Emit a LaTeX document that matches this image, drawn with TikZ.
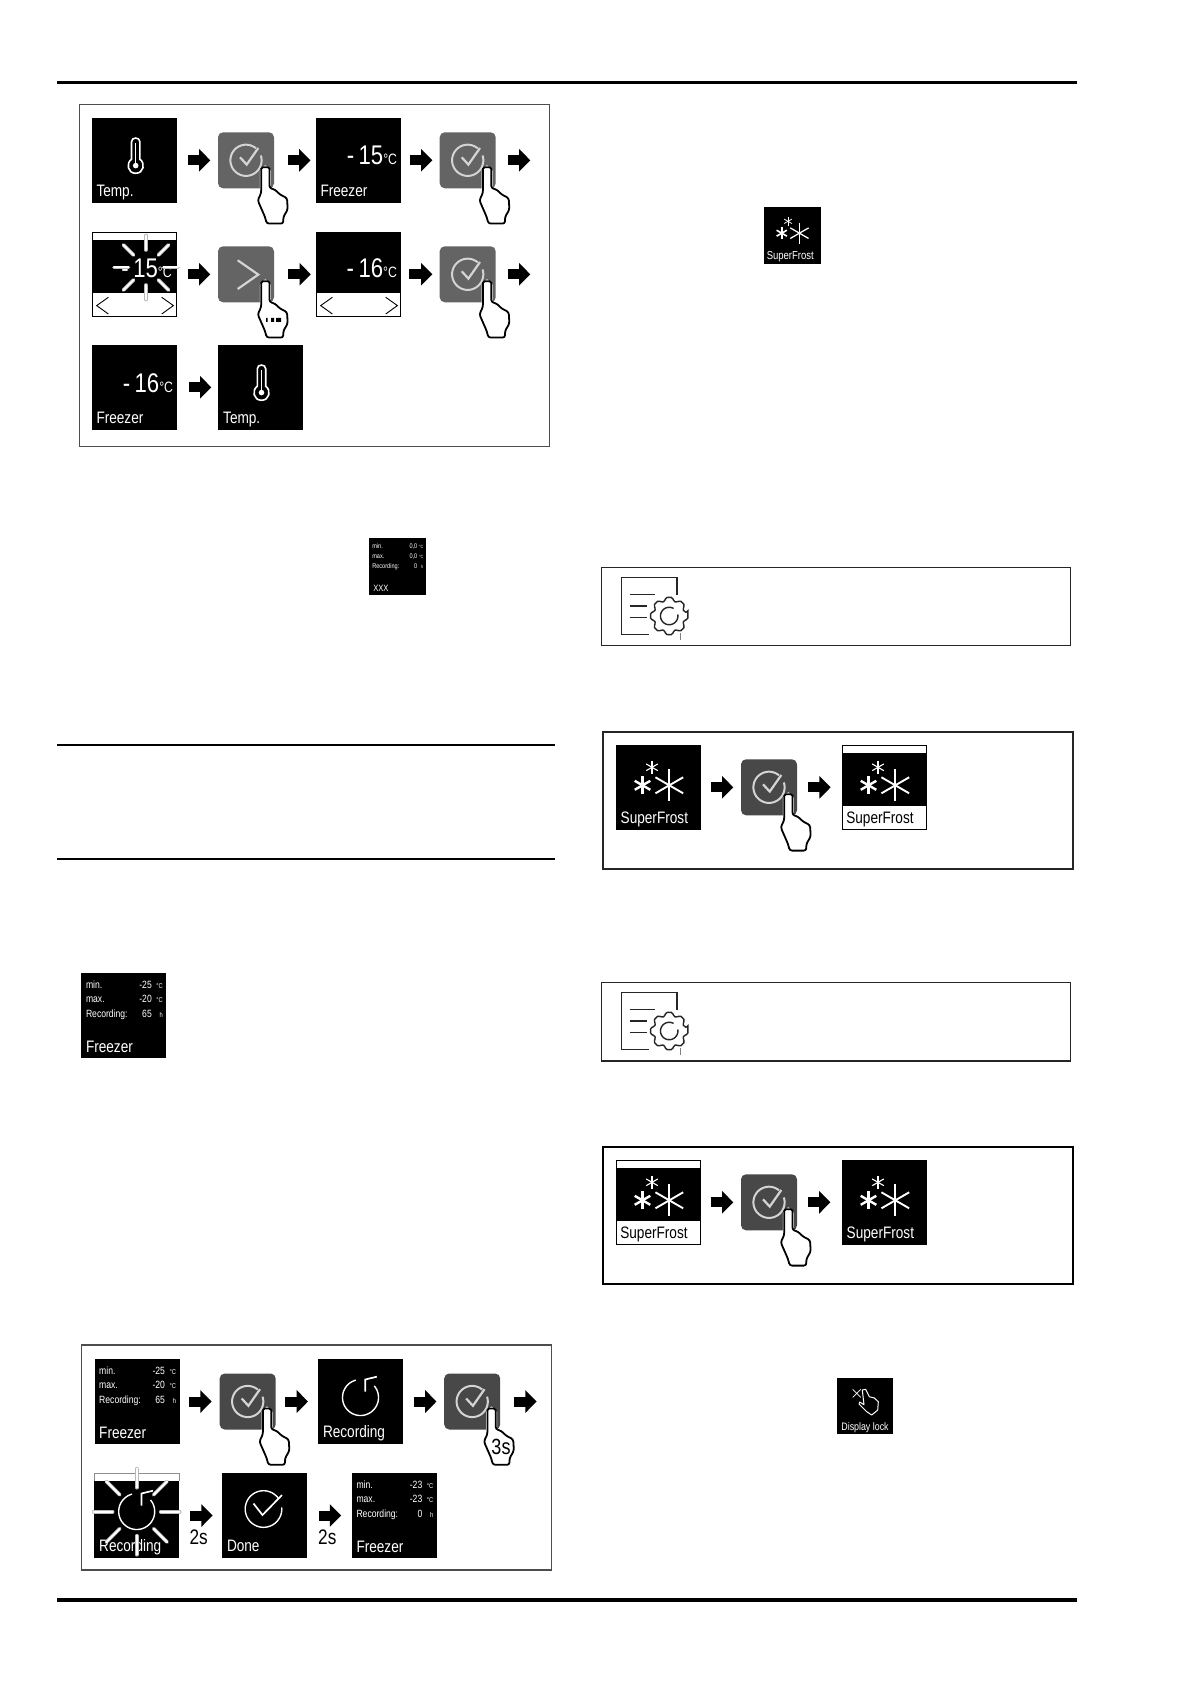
\documentclass[tikz,border=0pt]{standalone}
\usepackage{fontspec}
\setmainfont{Liberation Sans}[FakeStretch=0.82]
\newfontface\bigf{Liberation Sans}[FakeStretch=0.82]
\usetikzlibrary{arrows.meta}
\newcounter{nn}
\newcommand{\fa}{\fontsize{8.3}{9}\selectfont}
\newcommand{\fsm}{\fontsize{5.25}{6}\selectfont}
\newcommand{\ftiny}{\fontsize{3.5}{4}\selectfont}
\newcommand{\fbig}{\bigf\fontsize{13.5}{14}\selectfont}
\newcommand{\fdeg}{\fontsize{7.5}{9}\selectfont}
\definecolor{btnlight}{HTML}{646464}
\definecolor{btndark}{HTML}{484848}
\definecolor{chk}{HTML}{D4D4D4}
\definecolor{framegray}{HTML}{4D4D4D}
\tikzset{
  autoname/.code={\stepcounter{nn}\pgfkeysalso{/tikz/name=t\arabic{nn}}},
  txt/.style={autoname,inner sep=0pt,outer sep=0pt,text=white},
  blacktxt/.style={autoname,inner sep=0pt,outer sep=0pt,text=black},
  panelbox/.style={fill=black,minimum size=42.5pt,inner sep=0pt,outer sep=0pt},
  outbox/.style={fill=white,draw=black,line width=0.5pt,minimum size=42.2pt,inner sep=0pt,outer sep=0pt},
  btnbox/.style={rounded corners=2.5pt,minimum size=28pt,inner sep=0pt,outer sep=0pt},
  framebox/.style={draw=framegray,line width=0.75pt,fill=none},
  rulebar/.style={line width=1.6pt,draw=black},
  thinrule/.style={line width=1pt,draw=black},
  blockarrow/.style={line width=5pt,draw=black,-{Triangle[length=5.65pt,width=11pt]}},
  chkline/.style={draw=chk,line width=1pt},
  handline/.style={draw=black,fill=white,line width=0.9pt,rounded corners=1.2pt,line join=round},
  whiteline/.style={draw=white,line width=0.7pt},
  rayback/.style={draw=black!28,line width=1.8pt,line cap=round},
  rayfront/.style={draw=white,line width=1pt,line cap=round},
  gearline/.style={draw=black!85,line width=0.7pt},
}
\newcommand{\conn}[4]{\draw[blockarrow,shorten <=#3pt,shorten >=#4pt] (#1.east) -- (#2.west);}
\newcommand{\txtn}[4]{\node[txt,anchor=#1] at (#2,#3) {#4};}
\newcommand{\blk}[4]{\node[blacktxt,anchor=#1] at (#2,#3) {#4};}
\newcommand{\parc}[6][chkline]{\draw[#1] plot[domain=#5:#6,samples=60] ({#2+#4*cos(\x)},{#3-#4*sin(\x)});}
% hand, relative to a button centre
\newcommand{\handshape}{%
  \draw[draw=white,line width=1.4pt,line join=round] (15.2,30) -- (15.2,11) -- (19.3,6.5) -- (23.5,11) -- (23.5,28);
  \draw[handline] (15.2,32.7) -- (15.2,11) .. controls (15.2,8) and (16.5,7) .. (19.3,7) .. controls (22,7) and (23.5,8) .. (23.5,11) -- (23.5,27.7) -- (29,29.3) -- (34,34.3) -- (41,37.7) -- (41.7,49.3) -- (37.3,56.7) -- (37.3,63.3) -- (20.7,63.3) -- (19,56.7) -- (11.7,40) -- cycle;
}
\newcommand{\checkmarkicon}{%
  \parc{0}{0}{15.6}{50}{378}
  \draw[chkline,line width=1.1pt] (-6,-3) -- (0.7,4.3) -- (12.3,-12.3);
}
\newcommand{\checkbtn}[4]{%
  \node[btnbox,fill=#4] (#1) at (#2,#3) {};
  \begin{scope}[shift={(#1.center)}]\checkmarkicon\handshape\end{scope}
}
\newcommand{\tempval}[3]{\node[txt,anchor=base east] at (#1,#2) {{\fbig -\,#3}{\fdeg °C}};}
\newcommand{\thermo}{%
  \draw[whiteline,line width=0.8pt] (-3.2,-1) -- (-3.2,-18.5) .. controls (-3.2,-23.5) and (5.2,-23.5) .. (5.2,-18.5) -- (5.2,-1) .. controls (11,3) and (9,13) .. (1,13) .. controls (-7,13) and (-9,3) .. (-3.2,-1) -- cycle;
  \fill[white] (1,5.3) circle (2.8);
  \draw[whiteline] (1,5) -- (1,-17);
}
\newcommand{\minmaxrows}[4]{%
  \txtn{base west}{-37.8}{-27}{\fsm min.}
  \txtn{base west}{-37.8}{-12.6}{\fsm max.}
  \txtn{base west}{-37.8}{2}{\fsm Recording:}
  \txtn{base east}{28}{-27}{\fsm #1}
  \txtn{base east}{28}{-12.6}{\fsm #2}
  \txtn{base east}{28}{2}{\fsm #3}
  \txtn{base east}{39}{-27}{\ftiny °C}
  \txtn{base east}{39}{-12.6}{\ftiny °C}
  \txtn{base east}{39}{2}{\ftiny h}
  \txtn{base west}{-37.8}{37}{\fa #4}
}
\newcommand{\flakes}[1]{%
  \foreach \a in {90,30,150}{\draw[white,line width=#1*0.95pt] ({10.8*#1+16*#1*cos(\a)},{-2*#1-16*#1*sin(\a)}) -- ({10.8*#1-16*#1*cos(\a)},{-2*#1+16*#1*sin(\a)});}
  \foreach \a in {90,30,150}{\draw[white,line width=#1*1.2pt] ({-16*#1+9*#1*cos(\a)},{-2*#1-9*#1*sin(\a)}) -- ({-16*#1-9*#1*cos(\a)},{-2*#1+9*#1*sin(\a)});}
  \foreach \a in {90,30,150}{\draw[white,line width=#1*0.55pt] ({-6.5*#1+6.7*#1*cos(\a)},{-20*#1-6.7*#1*sin(\a)}) -- ({-6.5*#1-6.7*#1*cos(\a)},{-20*#1+6.7*#1*sin(\a)});}
}
\newcommand{\rays}[4]{%
  \foreach \a in {0,45,...,315}{\draw[rayback] ({#1+#3*cos(\a)},{#2+#3*sin(\a)}) -- ({#1+#4*cos(\a)},{#2+#4*sin(\a)});}
  \foreach \a in {0,45,...,315}{\draw[rayfront] ({#1+#3*cos(\a)},{#2+#3*sin(\a)}) -- ({#1+#4*cos(\a)},{#2+#4*sin(\a)});}
}
\newcommand{\recicon}[2]{%
  \parc[whiteline]{#1}{#2}{18}{105}{400}
  \draw[whiteline,line width=0.85pt] (#1+4.7,#2-5.8) -- (#1+4.7,#2-18) -- (#1+16.3,#2-20.8);
}
\newcommand{\sfoutpanel}[4]{% name, cx, cy, label on white or black
  \node[outbox] (#1) at (#2,#3) {};
  \fill[black] (#2-42.2,#3-34.3) rectangle (#2+42.2,#3+18.5);
  \begin{scope}[shift={(#1.center)}]
    \flakes{1}
    #4
  \end{scope}
}
\newcommand{\gearicon}[1]{%
  \begin{scope}[yshift=-#1*0.5pt]
  \draw[gearline] (677,595) -- (677,577.3) -- (621.3,577.3) -- (621.3,634.3) -- (649.3,634.3);
  \draw[gearline] (629.7,594.3) -- (655.3,594.3) (629.7,606) -- (647,606) (629.7,617.7) -- (647,617.7);
  \begin{scope}[shift={(669.2,616)}]
  \draw[gearline,fill=white,rounded corners=0.8pt] (-11:19) \foreach \an in {0,45,...,315}{ -- (\an-11:19) -- (\an+11:19) -- (\an+15:15.5) -- (\an+30:15.5)} -- cycle;
  \parc[gearline]{0}{0}{8.7}{60}{370}
  \end{scope}
  \draw[draw=black!50,line width=0.35pt] (680,633) -- (680,640);
  \end{scope}
}
\begin{document}
\begin{tikzpicture}[x=0.5pt,y=-0.5pt,line cap=butt]
\useasboundingbox (0,0) rectangle (1191,1684);
\fill[white] (0,0) rectangle (1191,1684);
% page rules
\draw[rulebar] (57,82.9) -- (1077,82.9);
\draw[rulebar] (57,1600) -- (1077,1600);
\draw[thinrule] (57,745.4) -- (555,745.4);
\draw[thinrule] (57,858.7) -- (555,858.7);
% ---------- Frame 1
\draw[framebox] (79.5,104.5) rectangle (549.5,446.3);
\node[panelbox] (a1) at (134.7,160.3) {};
\begin{scope}[shift={(a1.center)}]\thermo\txtn{base west}{-38.2}{36}{\fa Temp.}\end{scope}
\checkbtn{a2}{246}{160.3}{btnlight}
\node[panelbox] (a3) at (358.7,160.3) {};
\begin{scope}[shift={(a3.center)}]\tempval{38.4}{4.7}{15}\txtn{base west}{-38.2}{36}{\fa Freezer}\end{scope}
\checkbtn{a4}{467.7}{160.3}{btnlight}
\coordinate (a5) at (530.3,160.3);
\conn{a1}{a2}{5.35}{3.85}
\conn{a2}{a3}{7}{2.85}
\conn{a3}{a4}{4.2}{3.65}
\draw[blockarrow,shorten <=6pt] (a4.east) -- (a5);
% row 2
\node[outbox] (b1) at (134.7,274.3) {};
\fill[black] (92.2,240) rectangle (177.2,293.3);
\begin{scope}[shift={(b1.center)}]
  \tempval{37}{3.5}{15}
  \draw[black,line width=0.45pt] (-26.3,23) -- (-38,31.3) -- (-26.3,39.7);
  \draw[black,line width=0.45pt] (27,23) -- (38.7,31.3) -- (27,39.7);
\end{scope}
\rays{146}{267.5}{17.5}{32}
\node[btnbox,fill=btnlight] (b2) at (246,274.3) {};
\begin{scope}[shift={(b2.center)}]
  \draw[chkline,line width=1.1pt] (-8.3,-14) -- (12.3,0.3) -- (-8.3,14.7);
  \handshape
  \fill[black] (20,43.7) rectangle (21.7,47.7) (25,43.7) rectangle (28,47.7) (30,43.7) rectangle (35,47.7);
\end{scope}
\node[outbox] (b3) at (358.7,274.3) {};
\fill[black] (316.2,232) rectangle (401.2,293.3);
\begin{scope}[shift={(b3.center)}]
  \tempval{38.3}{3.5}{16}
  \draw[black,line width=0.45pt] (-26.3,23) -- (-38,31.3) -- (-26.3,39.7);
  \draw[black,line width=0.45pt] (27,23) -- (38.7,31.3) -- (27,39.7);
\end{scope}
\checkbtn{b4}{467.7}{274.3}{btnlight}
\coordinate (b5) at (530.3,274.3);
\conn{b1}{b2}{5.35}{3.85}
\conn{b2}{b3}{7}{2.85}
\conn{b3}{b4}{4.2}{3.65}
\draw[blockarrow,shorten <=6pt] (b4.east) -- (b5);
% row 3
\node[panelbox] (c1) at (134.7,387.3) {};
\begin{scope}[shift={(c1.center)}]\tempval{38.4}{5}{16}\txtn{base west}{-38.2}{36}{\fa Freezer}\end{scope}
\node[panelbox] (c2) at (260.5,387.3) {};
\begin{scope}[shift={(c2.center)}]\thermo\txtn{base west}{-37.3}{36}{\fa Temp.}\end{scope}
\conn{c1}{c2}{5.7}{3.35}
% ---------- small icon XXX
\node[panelbox,minimum size=28.5pt] (x1) at (397.3,566.5) {};
\begin{scope}[shift={(x1.center)}]
  \txtn{base west}{-25}{-18}{\fontsize{3.4}{4}\selectfont min.}
  \txtn{base west}{-25}{-8}{\fontsize{3.4}{4}\selectfont max.}
  \txtn{base west}{-25}{2}{\fontsize{3.4}{4}\selectfont Recording:}
  \txtn{base east}{20}{-18}{\fontsize{3.4}{4}\selectfont 0,0}
  \txtn{base east}{20}{-8}{\fontsize{3.4}{4}\selectfont 0,0}
  \txtn{base east}{20}{2}{\fontsize{3.4}{4}\selectfont 0}
  \txtn{base east}{26}{-18}{\fontsize{2.3}{3}\selectfont °C}
  \txtn{base east}{26}{-8}{\fontsize{2.3}{3}\selectfont °C}
  \txtn{base east}{26}{2}{\fontsize{2.3}{3}\selectfont h}
  \txtn{base west}{-24}{25}{\fontsize{4.6}{5}\selectfont XXX}
\end{scope}
% ---------- Freezer icon
\node[panelbox] (f1) at (123.8,1015.3) {};
\begin{scope}[shift={(f1.center)}]\minmaxrows{-25}{-20}{65}{Freezer}\end{scope}
% ---------- Frame 2
\draw[framebox] (81.7,1345) rectangle (551.3,1570);
\node[panelbox] (d1) at (137,1401.5) {};
\begin{scope}[shift={(d1.center)}]\minmaxrows{-25}{-20}{65}{Freezer}\end{scope}
\checkbtn{d2}{247.7}{1401.5}{btndark}
\node[panelbox] (d3) at (360.5,1401.5) {};
\begin{scope}[shift={(d3.center)}]\recicon{0}{-4}\txtn{base west}{-37.5}{36}{\fa Recording}\end{scope}
\checkbtn{d4}{472.2}{1401.5}{btndark}
\blk{base}{501}{1454.5}{\fontsize{11}{12}\selectfont 3s}
\coordinate (d5) at (536.7,1401.5);
\conn{d1}{d2}{4.9}{4}
\conn{d2}{d3}{4.85}{5}
\conn{d3}{d4}{5.5}{3.85}
\draw[blockarrow,shorten <=7pt] (d4.east) -- (d5);
% row 2
\node[panelbox] (e1) at (136.7,1515.5) {};
\fill[white] (94.5,1473.3) rectangle (179,1481);
\draw[draw=black!45,line width=0.35pt] (94.2,1481) -- (94.2,1473.2) -- (179.2,1473.2) -- (179.2,1481);
\begin{scope}[shift={(e1.center)}]\recicon{0}{-4}\txtn{base west}{-37.5}{36}{\fa Recording}\end{scope}
\rays{136.7}{1511.7}{24}{43}
\node[panelbox] (e2) at (264.5,1515.5) {};
\begin{scope}[shift={(e2.center)}]
  \parc[whiteline]{-1}{-6.5}{18.3}{35}{365}
  \draw[whiteline,line width=0.85pt] (-11,-12) -- (-2,-0.5) -- (17.5,-20.5);
  \txtn{base west}{-37.5}{36}{\fa Done}
\end{scope}
\node[panelbox] (e3) at (394.3,1515.5) {};
\begin{scope}[shift={(e3.center)}]\minmaxrows{-23}{-23}{0}{Freezer}\end{scope}
\conn{e1}{e2}{5.55}{4.65}
\conn{e2}{e3}{6}{5.35}
\blk{base}{198.7}{1544.5}{\fontsize{10.5}{12}\selectfont 2s}
\blk{base}{327.3}{1544.5}{\fontsize{10.5}{12}\selectfont 2s}
% ---------- Top right icon
\node[panelbox,minimum size=28.3pt] (s1) at (792.3,235.5) {};
\begin{scope}[shift={(s1.center)}]
  \begin{scope}[yshift=0.5pt]\flakes{0.66}\end{scope}
  \txtn{base}{-2}{24.5}{\fontsize{5.8}{6}\selectfont SuperFrost}
\end{scope}
% ---------- Gear frames
\draw[framebox,draw=black!85] (601.3,567.3) rectangle (1070.7,645.7);
\gearicon{0}
\draw[framebox,draw=black!85] (601.3,982.7) rectangle (1070.7,1061);
\gearicon{415}
% ---------- SuperFrost frame 1
\draw[framebox,draw=black!85,line width=0.9pt] (603.3,732.3) rectangle (1072.7,868.7);
\node[panelbox] (g1) at (658.5,787.3) {};
\begin{scope}[shift={(g1.center)}]
  \flakes{1}
  \txtn{base west}{-37.8}{36.5}{\fa SuperFrost}
\end{scope}
\checkbtn{g2}{769}{787.3}{btndark}
\sfoutpanel{g3}{884.5}{787.3}{\blk{base west}{-38.2}{36.5}{\fa SuperFrost}}
\conn{g1}{g2}{5}{3.85}
\conn{g2}{g3}{5.5}{5.8}
% ---------- SuperFrost frame 2
\draw[framebox,draw=black,line width=1pt] (603.3,1147.3) rectangle (1072.7,1283.7);
\sfoutpanel{h1}{658.5}{1202.3}{\blk{base west}{-38.2}{36.5}{\fa SuperFrost}}
\checkbtn{h2}{769}{1202.3}{btndark}
\node[panelbox] (h3) at (884.5,1202.3) {};
\begin{scope}[shift={(h3.center)}]
  \flakes{1}
  \txtn{base west}{-37.8}{36.5}{\fa SuperFrost}
\end{scope}
\conn{h1}{h2}{5}{3.85}
\conn{h2}{h3}{5.5}{5.8}
% ---------- Display lock
\node[panelbox,minimum size=28pt] (l1) at (865,1405.5) {};
\begin{scope}[shift={(l1.center)}]
  \draw[white,line width=0.35pt] (-12.3,-16.2) -- (-4.3,-8.2) (-4.3,-16.2) -- (-12.3,-8.2);
  \draw[white,line width=0.5pt,line join=round] (-2.7,-15.5) -- (0.7,-16.2) -- (4.3,-8.8) -- (9.3,-7.5) -- (13.3,-3.8) -- (12.7,4.5) -- (6.7,9.5) -- (1.7,6.2) -- (-6,-1.5) -- (-5.3,-3.5) -- (-1,-0.8) -- cycle;
  \txtn{base}{0}{24.5}{\fontsize{5.4}{6}\selectfont Display lock}
\end{scope}
\end{tikzpicture}
\end{document}
